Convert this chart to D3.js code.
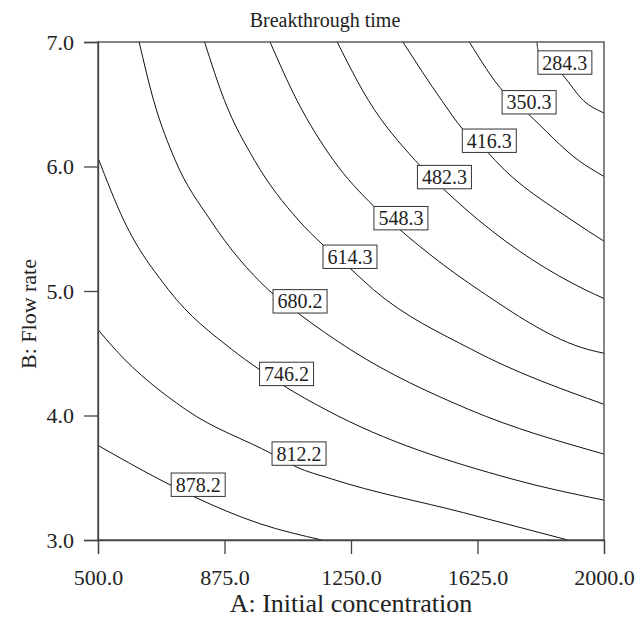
<!DOCTYPE html>
<html>
<head>
<meta charset="utf-8">
<script src="https://cdn.jsdelivr.net/npm/d3@7/dist/d3.min.js"></script>
<style>
  body { margin: 0; background: #fff; }
  svg text { font-family: "Liberation Serif", "Times New Roman", serif; fill: #222; }
</style>
</head>
<body>
<svg id="chart" width="643" height="630"></svg>
<script>
// contour levels of breakthrough time
var levels = [284.3, 350.3, 416.3, 482.3, 548.3, 614.3, 680.2, 746.2, 812.2, 878.2];

// each contour as [A, B] points
var c284 = [[1801, 7.0], [1805, 6.93], [1879, 6.73], [1939, 6.53], [2000, 6.43]];
var c350 = [[1601, 7.0], [1699, 6.61], [1776, 6.42], [1924, 6.05], [2000, 5.92]];
var c416 = [[1404, 7.0], [1519, 6.53], [1581, 6.30], [1657, 6.11], [1677, 6.05], [1904, 5.57], [2000, 5.40]];
var c482 = [[1209, 7.0], [1302, 6.53], [1440, 6.05], [1524, 5.82], [1628, 5.57], [1944, 5.01], [2000, 4.94]];
var c548 = [[1010, 7.0], [1090, 6.53], [1198, 6.05], [1318, 5.68], [1396, 5.49], [1628, 5.01], [1953, 4.53], [2000, 4.50]];
var c614 = [[816, 7.0], [875, 6.53], [964, 6.05], [1094, 5.57], [1167, 5.37], [1248, 5.18], [1317, 5.01], [1608, 4.53], [2000, 4.09]];
var c680 = [[622, 7.0], [665, 6.53], [729, 6.05], [833, 5.57], [1005, 5.01], [1094, 4.82], [1248, 4.53], [1598, 4.05], [2000, 3.69]];
var c746 = [[500, 6.07], [576, 5.57], [709, 5.01], [897, 4.53], [978, 4.37], [1050, 4.24], [1173, 4.05], [1727, 3.49], [2000, 3.32]];
var c812 = [[500, 4.69], [551, 4.53], [759, 4.05], [1017, 3.69], [1085, 3.59], [1193, 3.49], [1583, 3.22], [1893, 3.0]];
var c878 = [[500, 3.76], [680, 3.49], [783, 3.35], [981, 3.13], [1164, 3.0]];
var contourLines = [c284, c350, c416, c482, c548, c614, c680, c746, c812, c878];

// where each level label sits, [A, B]
var labelAt = [[1884, 6.835], [1778, 6.516], [1660, 6.207], [1527, 5.915], [1398, 5.585],
               [1247, 5.275], [1099, 4.917], [1059, 4.334], [1096, 3.694], [797, 3.444]];

var xTicks = [500, 875, 1250, 1625, 2000];
var yTicks = [3, 4, 5, 6, 7];

var margin = {top: 42, right: 39, bottom: 90, left: 98},
    width = 643 - margin.left - margin.right,
    height = 630 - margin.top - margin.bottom;

var svg = d3.select("#chart");
var g = svg.append("g").attr("transform", "translate(" + margin.left + "," + margin.top + ")");

var x = d3.scaleLinear().domain([500, 2000]).range([0, width]);
var y = d3.scaleLinear().domain([3, 7]).range([height, 0]);

var line = d3.line()
  .x(function(d) { return x(d[0]); })
  .y(function(d) { return y(d[1]); })
  .curve(d3.curveMonotoneX);

g.append("defs").append("clipPath").attr("id", "plotClip")
  .append("rect").attr("width", width).attr("height", height);

g.append("g").attr("clip-path", "url(#plotClip)")
  .selectAll("path.contour")
  .data(contourLines)
  .enter().append("path")
  .attr("class", "contour")
  .attr("d", line)
  .attr("fill", "none")
  .attr("stroke", "#111")
  .attr("stroke-width", 1);

// frame
g.append("rect")
  .attr("width", width).attr("height", height)
  .attr("fill", "none").attr("stroke", "#444").attr("stroke-width", 1.3);

var xAxis = g.append("g")
  .attr("transform", "translate(0," + height + ")")
  .call(d3.axisBottom(x).tickValues(xTicks).tickFormat(d3.format(".1f")).tickSize(14).tickPadding(15));
var yAxis = g.append("g")
  .call(d3.axisLeft(y).tickValues(yTicks).tickFormat(d3.format(".1f")).tickSize(14).tickPadding(10));

[xAxis, yAxis].forEach(function(a) {
  a.select(".domain").attr("stroke", "#444").attr("stroke-width", 1.3);
  a.selectAll(".tick line").attr("stroke", "#444").attr("stroke-width", 1.3);
  a.selectAll(".tick text").style("font-size", "22px").attr("fill", "#222");
});

// level labels
var lab = g.selectAll("g.lvl")
  .data(levels)
  .enter().append("g")
  .attr("class", "lvl")
  .attr("transform", function(d, i) {
    return "translate(" + x(labelAt[i][0]) + "," + y(labelAt[i][1]) + ")";
  });
lab.append("rect")
  .attr("x", -27).attr("y", -11.7).attr("width", 54).attr("height", 23.4)
  .attr("fill", "#fff").attr("stroke", "#333").attr("stroke-width", 1);
lab.append("text")
  .attr("text-anchor", "middle")
  .attr("dy", "0.35em")
  .style("font-size", "20px")
  .text(function(d) { return d3.format(".1f")(d); });

svg.append("text")
  .attr("x", 325).attr("y", 27)
  .attr("text-anchor", "middle")
  .style("font-size", "20px")
  .text("Breakthrough time");

svg.append("text")
  .attr("x", margin.left + width / 2).attr("y", 612)
  .attr("text-anchor", "middle")
  .style("font-size", "26px")
  .text("A: Initial concentration");

svg.append("text")
  .attr("transform", "translate(36,314) rotate(-90)")
  .attr("text-anchor", "middle")
  .style("font-size", "22px")
  .text("B: Flow rate");
</script>
</body>
</html>
